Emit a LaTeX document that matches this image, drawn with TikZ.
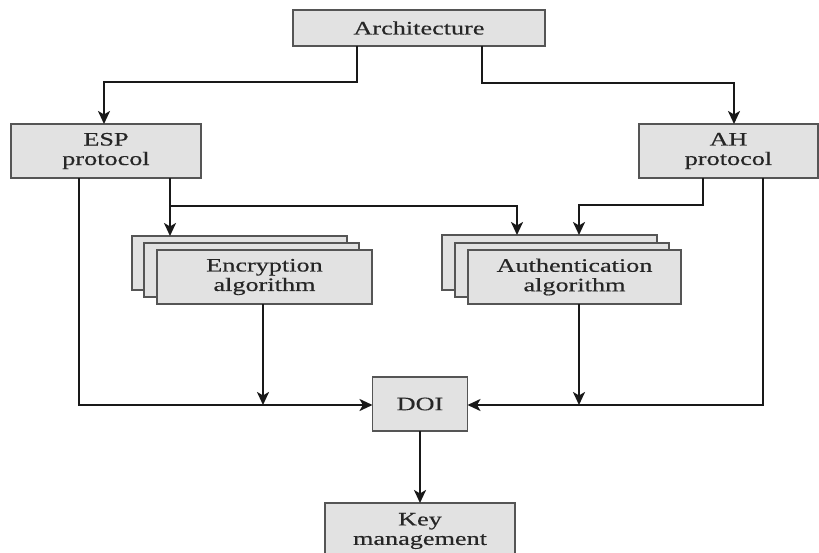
\documentclass[tikz,border=0pt]{standalone}
\usepackage{fontspec}
\setmainfont{Liberation Serif}[FakeStretch=1.38,FakeBold=0.4]
\usetikzlibrary{arrows.meta,calc}
\definecolor{boxfill}{HTML}{E2E2E2}
\definecolor{boxline}{HTML}{555555}
\definecolor{txt}{HTML}{262626}
\begin{document}
\begin{tikzpicture}[x=1pt,y=-1pt,
  box/.style={draw=boxline, fill=boxfill, line width=1.6pt, inner sep=0pt, outer sep=0pt,
    align=center, text=txt, font=\fontsize{19}{19.5}\selectfont},
  arr/.style={line width=2.3pt, draw=black!90, -{Stealth[length=13pt,width=12pt,inset=3.5pt]}}]
\clip (0,0) rectangle (819,553);
\useasboundingbox (0,0) rectangle (819,553);
% nodes
\node[box, minimum width=252, minimum height=36] (arch) at (419,28) {Architecture};
\node[box, minimum width=190, minimum height=54] (esp) at (106,151) {ESP\\protocol};
\node[box, minimum width=179, minimum height=54] (ah) at (728.5,151) {AH\\protocol};
\node[box, minimum width=215, minimum height=54] (encback) at (239.5,263) {};
\node[box, minimum width=215, minimum height=54] (encmid) at (251.5,270) {};
\node[box, minimum width=215, minimum height=54] (encfront) at (264.5,277) {Encryption\\algorithm};
\node[box, minimum width=215, minimum height=55] (authback) at (549.5,262.5) {};
\node[box, minimum width=214, minimum height=54] (authmid) at (562,270) {};
\node[box, minimum width=213, minimum height=54] (authfront) at (574.5,277) {Authentication\\algorithm};
\node[box, minimum width=95, minimum height=54] (doi) at (420,404) {DOI};
\node[box, minimum width=190, minimum height=56] (key) at (420,531) {Key\\management};
% connectors
\draw[arr] ([xshift=-62pt]arch.south) -- ++(0,36) -| ([xshift=-2pt]esp.north);
\draw[arr] ([xshift=63pt]arch.south) -- ++(0,37) -| ([xshift=5.5pt]ah.north);
\draw[arr] ([xshift=64pt]esp.south) -- ([xshift=64pt]esp.south |- encback.north);
\draw[arr] ($(esp.south)+(64,28)$) -| ([xshift=-32.5pt]authback.north);
\draw[arr] ([xshift=-25.5pt]ah.south) -- ++(0,27) -| ([xshift=29.5pt]authback.north);
\draw[arr] ([xshift=-27pt]esp.south) |- ([yshift=-1pt]doi.west);
\draw[arr] ([xshift=-1.5pt]encfront.south) -- ([xshift=-1.5pt,yshift=-1pt]encfront.south |- doi.west);
\draw[arr] ([xshift=34.5pt]ah.south) |- ([yshift=-1pt]doi.east);
\draw[arr] ([xshift=4.5pt]authfront.south) -- ([xshift=4.5pt,yshift=-1pt]authfront.south |- doi.east);
\draw[arr] (doi.south) -- (key.north);
\end{tikzpicture}
\end{document}
